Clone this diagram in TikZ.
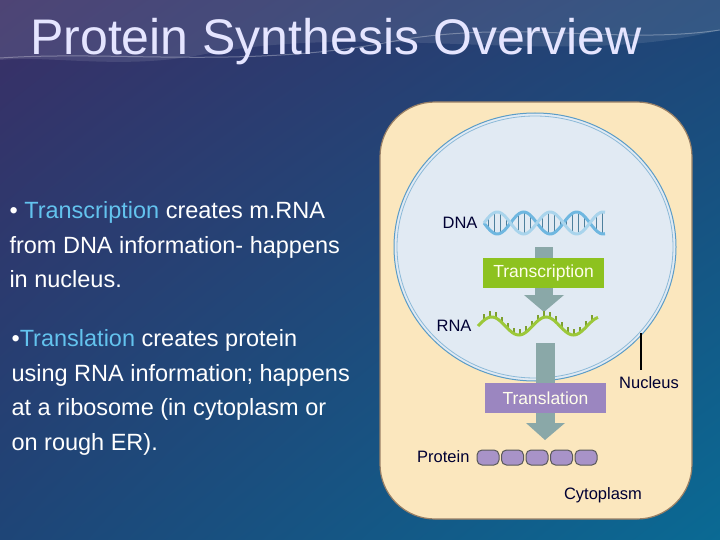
\documentclass[tikz,border=0pt]{standalone}
\usepackage{fontspec}
\usetikzlibrary{shadings}
\setmainfont{Liberation Sans}
\begin{document}
\begin{tikzpicture}[x=1pt,y=-1pt,
  lbl/.style={font=\fontsize{16.5}{18}\selectfont, text=black!80!blue},
  body/.style={font=\fontsize{23.5}{34.5}\selectfont, text=white, align=left, anchor=north west},
  boxl/.style={font=\fontsize{17.5}{19}\selectfont, text=white!92!yellow, minimum width=121pt, minimum height=30pt, inner sep=0pt},
  bead/.style={draw=gray!70!black, fill=beadc, rounded corners=5pt, line width=1pt}]
\definecolor{bgA}{HTML}{3A2F66}
\definecolor{bgM}{HTML}{1E4577}
\definecolor{bgB}{HTML}{0A6A94}
\definecolor{hl}{HTML}{63C3EE}
\definecolor{cellc}{HTML}{FBE7BE}
\definecolor{nucc}{HTML}{E1EAF3}
\definecolor{nucl}{HTML}{5B9CC7}
\definecolor{greenc}{HTML}{8DC21F}
\definecolor{purplec}{HTML}{9B86C0}
\definecolor{arrowc}{HTML}{8AA8A8}
\definecolor{beadc}{HTML}{A893C8}
\definecolor{dnac}{HTML}{6FB7E0}
\definecolor{rnac}{HTML}{9CC83A}
\useasboundingbox (0,0) rectangle (720,540);
\shade[upper left=bgA, upper right=bgM, lower left=bgM, lower right=bgB] (0,0) rectangle (720,540);
\fill[white, opacity=0.10] (0,0) -- (720,0) -- (720,30) .. controls (560,70) and (380,20) .. (200,55) .. controls (120,70) and (50,55) .. (0,60) -- cycle;
\draw[white, opacity=0.3, line width=1pt] (0,58) .. controls (120,50) and (250,70) .. (400,40) .. controls (520,20) and (620,45) .. (720,30);
\node[font=\fontsize{50}{54}\selectfont, text=white!90!blue, anchor=west, inner sep=0pt] (title) at (30,42) {Protein Synthesis Overview};
\node[body] (t1) at (6,198) {• \textcolor{hl}{Transcription} creates m.RNA\\from DNA information- happens\\in nucleus.};
\node[body] (t2) at (8,326) {•\textcolor{hl}{Translation} creates protein\\using RNA information; happens\\at a ribosome (in cytoplasm or\\on rough ER).};
% cell
\draw[fill=cellc, draw=gray!60!brown, line width=1.2pt, rounded corners=55pt] (380,102) rectangle (692,519);
\draw[fill=nucc, draw=nucl, line width=1pt] (535,247) ellipse [x radius=141, y radius=134];
\draw[nucl!70, line width=0.8pt] (535,247) ellipse [x radius=138, y radius=131];
% arrows
\fill[arrowc] (535,247) rectangle (553,296);
\fill[arrowc] (524,295) -- (564,295) -- (544,312) -- cycle;
\fill[arrowc] (536,343) rectangle (555,424);
\fill[arrowc] (526,423) -- (565,423) -- (545,440) -- cycle;
\node[boxl, fill=greenc] (tx) at (543.5,273) {Transcription};
\node[boxl, fill=purplec] (tl) at (545.5,398) {Translation};
% DNA helix
\node[lbl, anchor=east] (dna) at (481,223) {DNA};
\foreach \x in {488,494,...,602} {\draw[dnac!70!black, line width=1pt] ({\x},{223+11*sin((\x-484)*6.8)}) -- ({\x},{223-11*sin((\x-484)*6.8)});}
\draw[dnac, line width=3pt, domain=484:605, samples=80] plot (\x,{223+11*sin((\x-484)*6.8)});
\draw[dnac!60!white, line width=3pt, domain=484:605, samples=80] plot (\x,{223-11*sin((\x-484)*6.8)});
% RNA
\node[lbl, anchor=east] (rna) at (475,326) {RNA};
\foreach \x in {484,490,...,594} {\draw[rnac!80!black, line width=1.2pt] ({\x},{326-9*sin((\x-478)*6.6)}) -- ({\x},{326-9*sin((\x-478)*6.6)-6});}
\draw[rnac, line width=3pt, domain=478:598, samples=80] plot (\x,{326-9*sin((\x-478)*6.6)});
% protein
\node[lbl, anchor=east] (prot) at (473,457) {Protein};
\foreach \i in {0,...,4} {\draw[bead] ({477+\i*24.5},450) rectangle ({477+\i*24.5+22},465);}
% labels
\coordinate (n1) at (641,333);
\coordinate (n2) at (641,370);
\draw[black, line width=1.8pt] (n1) -- (n2);
\node[lbl] (nuc) at (649,383) {Nucleus};
\node[lbl] (cyto) at (603,495) {Cytoplasm};
\end{tikzpicture}
\end{document}
